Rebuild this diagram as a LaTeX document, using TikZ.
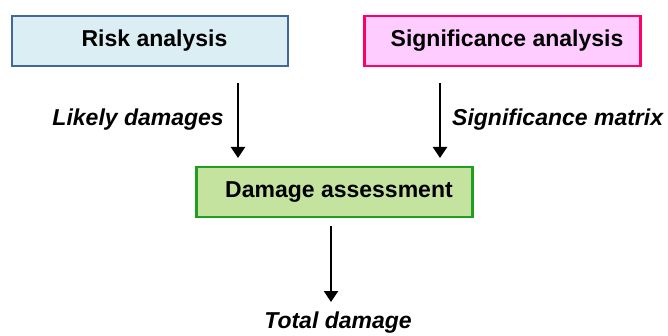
\documentclass[tikz,border=0pt]{standalone}
\usepackage{fontspec}
\setmainfont{Liberation Sans}
\usetikzlibrary{arrows.meta}
\definecolor{riskfill}{HTML}{DBEEF4}
\definecolor{riskline}{HTML}{41679B}
\definecolor{sigfill}{HTML}{FFCCFF}
\definecolor{sigline}{HTML}{FF0066}
\definecolor{dmgfill}{HTML}{C3E39F}
\definecolor{dmgline}{HTML}{1F9E1F}
\tikzset{
  box/.style={draw, line width=2.6pt, minimum width=276pt, minimum height=50pt,
    inner sep=0pt, font=\fontsize{23}{27}\selectfont\bfseries,
    execute at begin node=\hspace*{9pt}},
  lbl/.style={inner sep=0pt, font=\fontsize{23}{27}\selectfont\bfseries\itshape},
  flow/.style={line width=2.4pt, -{Triangle[width=14pt,length=11pt]}}
}

\begin{document}
\begin{tikzpicture}[x=1pt,y=-1pt]
  \useasboundingbox (0,0) rectangle (668,336);
  % draw the boxes
  \node[box, fill=riskfill, draw=riskline] (risk) at (150,41) {Risk analysis};
  \node[box, fill=sigfill, draw=sigline] (sig) at (502.5,41) {Significance analysis};
  \node[box, fill=dmgfill, draw=dmgline] (dmg) at (334.5,192) {Damage assessment};

  % arrow ends
  \coordinate (la) at (238,83);
  \coordinate (lb) at (238,158);
  \coordinate (ra) at (440,83);
  \coordinate (rb) at (440,158);
  \coordinate (ba) at (331,226);
  \coordinate (bb) at (331,302);

  % draw the arrows
  \draw[flow] (la) -- (lb);
  \draw[flow] (ra) -- (rb);
  \draw[flow] (ba) -- (bb);

  % label the arrows
  \node[lbl, anchor=east] (likely) at (224,120) {Likely damages};
  \node[lbl, anchor=west] (matrix) at (452,120) {Significance matrix};
  \node[lbl] (total) at (338,323) {Total damage};
\end{tikzpicture}
\end{document}
